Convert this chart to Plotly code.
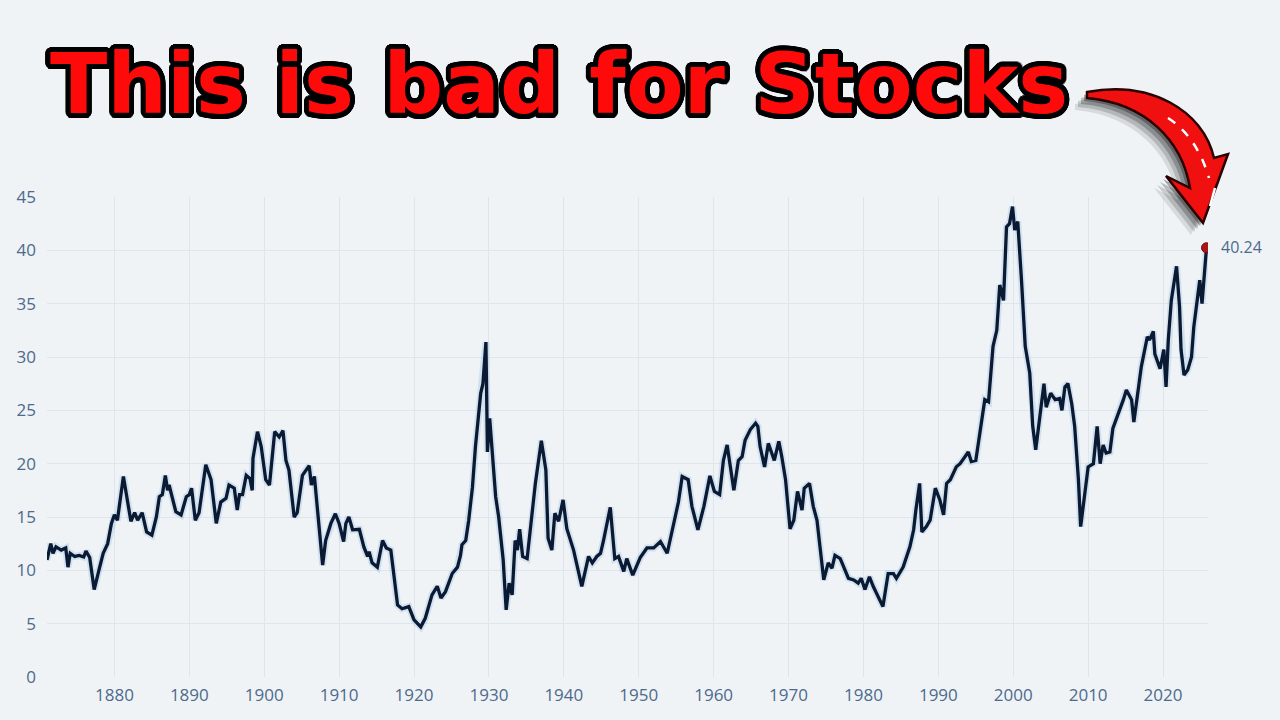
import plotly.graph_objects as go
import math

# ---------------- data ----------------
years = [
    1871.0, 1871.5, 1871.8, 1872.2, 1872.9, 1873.5, 1873.8, 1874.1, 1874.7, 1875.3,
    1875.9, 1876.2, 1876.7, 1877.3, 1878.0, 1878.5, 1879.1, 1879.6, 1880.0, 1880.4,
    1881.2, 1881.8, 1882.2, 1882.7, 1883.1, 1883.7, 1884.3, 1885.0, 1885.6, 1886.0,
    1886.4, 1886.8, 1887.1, 1887.3, 1888.2, 1888.9, 1889.6, 1890.0, 1890.3, 1890.8,
    1891.3, 1892.2, 1892.9, 1893.6, 1894.2, 1894.9, 1895.3, 1896.0, 1896.4, 1896.7,
    1897.1, 1897.6, 1898.1, 1898.4, 1898.5, 1899.1, 1899.6, 1900.2, 1900.7, 1901.4,
    1902.0, 1902.5, 1902.9, 1903.3, 1904.0, 1904.4, 1905.1, 1906.0, 1906.3, 1906.7,
    1907.8, 1908.2, 1908.9, 1909.5, 1910.0, 1910.6, 1910.9, 1911.3, 1911.8, 1912.7,
    1913.3, 1913.8, 1914.0, 1914.4, 1915.1, 1915.8, 1916.3, 1916.9, 1917.3, 1917.8,
    1918.4, 1919.3, 1920.0, 1920.9, 1921.5, 1922.4, 1923.1, 1923.6, 1924.2, 1925.1,
    1925.8, 1926.2, 1926.4, 1926.9, 1927.3, 1927.8, 1928.2, 1928.9, 1929.2, 1929.6,
    1929.8, 1930.1, 1930.9, 1931.3, 1931.9, 1932.3, 1932.7, 1933.1, 1933.5, 1933.8,
    1934.1, 1934.5, 1935.1, 1935.8, 1936.2, 1937.0, 1937.6, 1937.9, 1938.4, 1938.8,
    1939.3, 1939.9, 1940.4, 1941.3, 1942.4, 1943.3, 1943.8, 1944.4, 1944.9, 1945.3,
    1945.8, 1946.2, 1946.8, 1947.3, 1947.6, 1948.0, 1948.4, 1949.2, 1950.2, 1951.1,
    1952.0, 1952.9, 1953.8, 1954.7, 1955.3, 1955.8, 1956.6, 1957.1, 1957.9, 1958.7,
    1959.5, 1960.1, 1960.8, 1961.3, 1961.8, 1962.7, 1963.3, 1963.8, 1964.2, 1964.9,
    1965.6, 1965.9, 1966.2, 1966.8, 1967.3, 1968.1, 1968.7, 1969.1, 1969.6, 1970.2,
    1970.7, 1971.2, 1971.8, 1972.1, 1972.8, 1973.3, 1973.8, 1974.2, 1974.7, 1975.3,
    1975.8, 1976.2, 1976.9, 1978.0, 1978.7, 1979.3, 1979.7, 1980.2, 1980.8, 1981.3,
    1982.0, 1982.6, 1983.3, 1984.0, 1984.4, 1985.3, 1986.2, 1986.7, 1987.0, 1987.5,
    1987.8, 1988.4, 1988.9, 1989.6, 1990.2, 1990.7, 1991.1, 1991.6, 1992.4, 1992.9,
    1994.0, 1994.4, 1995.0, 1995.6, 1996.2, 1996.7, 1997.3, 1997.8, 1998.2, 1998.7,
    1999.1, 1999.5, 1999.9, 2000.2, 2000.6, 2001.1, 2001.6, 2002.2, 2002.6, 2003.0,
    2003.6, 2004.1, 2004.4, 2005.0, 2005.6, 2006.2, 2006.5, 2006.9, 2007.3, 2007.8,
    2008.2, 2008.7, 2009.0, 2009.6, 2010.0, 2010.7, 2011.2, 2011.6, 2012.0, 2012.4,
    2012.9, 2013.3, 2014.0, 2014.7, 2015.1, 2015.8, 2016.1, 2016.7, 2017.1, 2017.9,
    2018.2, 2018.7, 2018.9, 2019.6, 2020.1, 2020.4, 2020.7, 2021.1, 2021.8, 2022.2,
    2022.4, 2022.8, 2023.3, 2023.8, 2024.1, 2024.9, 2025.2, 2025.8,
]
cape = [
    10.97, 12.5, 11.6, 12.2, 11.9, 12.1, 10.3, 11.6, 11.3, 11.4,
    11.25, 11.8, 11.2, 8.2, 10.2, 11.6, 12.5, 14.4, 15.2, 14.7,
    18.8, 16.4, 14.6, 15.4, 14.7, 15.4, 13.6, 13.3, 15.0, 16.9,
    17.1, 18.9, 17.5, 18.0, 15.5, 15.2, 16.9, 17.1, 17.7, 14.7,
    15.4, 19.9, 18.5, 14.4, 16.4, 16.75, 18.0, 17.7, 15.65, 17.1,
    17.1, 18.9, 18.6, 17.5, 20.5, 23.0, 21.6, 18.5, 18.0, 23.0,
    22.5, 23.1, 20.3, 19.4, 15.0, 15.4, 18.9, 19.8, 18.0, 18.8,
    10.5, 12.8, 14.4, 15.3, 14.4, 12.7, 14.4, 15.0, 13.8, 13.85,
    12.2, 11.3, 11.75, 10.7, 10.3, 12.8, 12.1, 11.9, 9.4, 6.75,
    6.4, 6.6, 5.35, 4.7, 5.5, 7.7, 8.5, 7.4, 8.0, 9.7,
    10.3, 11.4, 12.4, 12.8, 14.7, 17.8, 21.6, 26.6, 27.5, 31.4,
    21.1, 24.25, 16.9, 15.0, 11.0, 6.3, 8.8, 7.7, 12.8, 11.9,
    13.85, 11.3, 11.1, 15.35, 18.15, 22.15, 19.4, 13.0, 11.9, 15.35,
    14.6, 16.6, 13.9, 11.9, 8.5, 11.3, 10.7, 11.3, 11.6, 12.8,
    14.7, 15.9, 11.1, 11.3, 10.7, 9.9, 11.1, 9.55, 11.2, 12.1,
    12.1, 12.7, 11.6, 14.4, 16.4, 18.8, 18.5, 16.0, 13.8, 16.0,
    18.85, 17.4, 17.1, 20.3, 21.75, 17.5, 20.3, 20.65, 22.2, 23.2,
    23.8, 23.5, 21.6, 19.7, 21.9, 20.3, 22.1, 20.65, 18.5, 13.9,
    14.7, 17.4, 15.65, 17.7, 18.15, 16.0, 14.7, 12.2, 9.1, 10.7,
    10.2, 11.4, 11.1, 9.25, 9.1, 8.8, 9.25, 8.2, 9.4, 8.5,
    7.5, 6.6, 9.7, 9.7, 9.25, 10.3, 12.2, 13.8, 15.65, 18.15,
    13.6, 14.1, 14.7, 17.7, 16.6, 15.2, 18.15, 18.5, 19.7, 20.0,
    21.1, 20.2, 20.3, 23.15, 26.0, 25.8, 31.0, 32.5, 36.75, 35.3,
    42.2, 42.5, 44.1, 41.9, 42.7, 37.2, 31.0, 28.5, 23.5, 21.3,
    24.7, 27.5, 25.3, 26.6, 26.0, 26.1, 25.0, 27.2, 27.5, 25.65,
    23.5, 18.5, 14.1, 17.85, 19.7, 20.0, 23.5, 20.0, 21.75, 21.0,
    21.1, 23.3, 24.6, 26.0, 26.9, 26.0, 23.9, 26.9, 29.1, 31.9,
    31.6, 32.4, 30.3, 28.9, 30.7, 27.2, 31.6, 35.3, 38.5, 34.7,
    30.7, 28.3, 28.8, 30.0, 32.8, 37.2, 35.0, 40.24,
]
x_ticks = [1880, 1890, 1900, 1910, 1920, 1930, 1940, 1950, 1960, 1970, 1980, 1990, 2000, 2010, 2020]
y_ticks = [0, 5, 10, 15, 20, 25, 30, 35, 40, 45]
title_text = "This is bad for Stocks"
last_label = "40.24"

# ---------------- layout constants ----------------
W, H = 1280, 720
ML, MR, MT, MB = 47, 72, 197, 43
PW, PH = W - ML - MR, H - MT - MB
BG = "#eff3f6"
TICK_COLOR = "#4d6a8c"


def px2paper(px, py):
    return (px - ML) / PW, (H - MB - py) / PH


def path_from_px(cmds):
    out = []
    for c in cmds:
        if isinstance(c, str):
            out.append(c)
        else:
            x, y = px2paper(*c)
            out.append(f"{x:.5f},{y:.5f}")
    return " ".join(out)


fig = go.Figure()

# soft glow under the line
fig.add_trace(go.Scatter(
    x=years, y=cape, mode="lines",
    line=dict(color="rgba(120,170,225,0.25)", width=7),
    hoverinfo="skip", showlegend=False,
))
fig.add_trace(go.Scatter(
    x=years, y=cape, mode="lines",
    line=dict(color="#0b1a33", width=3.3),
    showlegend=False,
))
# last point marker
fig.add_trace(go.Scatter(
    x=[years[-1]], y=[cape[-1]], mode="markers",
    marker=dict(color="#a8161a", size=10, line=dict(color="#6e0b0e", width=1)),
    showlegend=False,
))

fig.add_annotation(
    x=years[-1], y=cape[-1], xref="x", yref="y",
    text=last_label, showarrow=False, xanchor="left", yanchor="middle",
    xshift=12, yshift=1,
    font=dict(family="Open Sans, Arial, sans-serif", size=16, color=TICK_COLOR),
)

# title with black outline (multi text-shadow)
r = 5
shadows = []
for k in range(28):
    a = 2 * math.pi * k / 28
    shadows.append(f"{r*math.cos(a):.1f}px {r*math.sin(a):.1f}px 0 #000")
tx, ty = px2paper(48, 84)
fig.add_annotation(
    x=tx, y=ty, xref="paper", yref="paper", text=title_text, showarrow=False,
    xanchor="left", yanchor="middle",
    font=dict(family="DejaVu Sans, Liberation Sans, Arial, sans-serif", size=84,
              color="#ff0a0a", weight="bold", shadow=", ".join(shadows)),
)

# curved arrow: halftone-like shadow copies + body
arrow_cmds = [
    "M", (1087, 92),
    "C", (1150, 80), (1203, 110), (1214, 158),
    "L", (1228, 154),
    "L", (1203, 223),
    "L", (1166, 176),
    "L", (1190, 188),
    "C", (1182, 140), (1145, 103), (1087, 98), "Z",
]


def shifted(cmds, dx, dy):
    return [c if isinstance(c, str) else (c[0] + dx, c[1] + dy) for c in cmds]


for dx, dy, op in [(-12, 12, 0.10), (-9, 9, 0.16), (-6, 6, 0.22), (-3, 3, 0.3)]:
    fig.add_shape(type="path", xref="paper", yref="paper",
                  path=path_from_px(shifted(arrow_cmds, dx, dy)),
                  fillcolor=f"rgba(0,0,0,{op})", line=dict(width=0), layer="above")
fig.add_shape(type="path", xref="paper", yref="paper",
              path=path_from_px(arrow_cmds),
              fillcolor="#f01010", line=dict(color="#2a0000", width=2.5), layer="above")
# white highlight streaks on the arrow
fig.add_shape(type="path", xref="paper", yref="paper",
              path=path_from_px(["M", (1168, 118), "Q", (1197, 137), (1209, 178)]),
              line=dict(color="white", width=2.5, dash="dash"), layer="above")
fig.add_shape(type="path", xref="paper", yref="paper",
              path=path_from_px(["M", (1215, 188), "L", (1210, 206)]),
              line=dict(color="white", width=2.5), layer="above")

fig.update_layout(
    width=W, height=H,
    margin=dict(l=ML, r=MR, t=MT, b=MB),
    paper_bgcolor=BG, plot_bgcolor=BG,
    showlegend=False,
    xaxis=dict(
        range=[1871, 2026], tickvals=x_ticks, ticktext=[str(v) for v in x_ticks],
        showgrid=True, gridcolor="#dde6ee", gridwidth=1, zeroline=False, showline=False,
        ticks="", ticklabelstandoff=6,
        tickfont=dict(family="Open Sans, Arial, sans-serif", size=17, color=TICK_COLOR),
        fixedrange=True,
    ),
    yaxis=dict(
        range=[0, 45], tickvals=y_ticks, ticktext=[str(v) for v in y_ticks],
        showgrid=True, gridcolor="#dde6ee", gridwidth=1, zeroline=False, showline=False,
        ticks="", ticklabelstandoff=10,
        tickfont=dict(family="Open Sans, Arial, sans-serif", size=17, color=TICK_COLOR),
        fixedrange=True,
    ),
)

fig.write_html("out.html", config={"displayModeBar": False})
